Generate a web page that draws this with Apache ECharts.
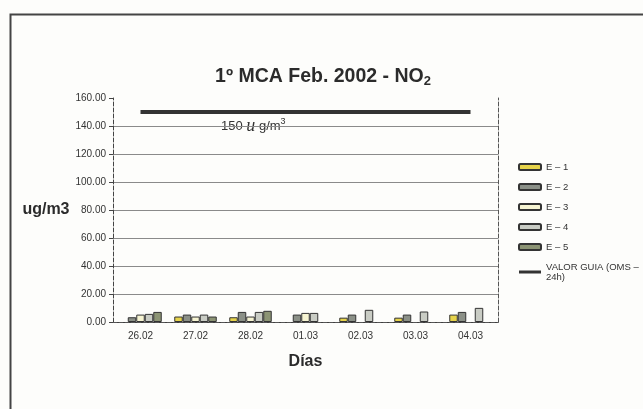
<!DOCTYPE html>
<html lang="es">
  <head>
    <meta charset="UTF-8" />
    <title>1º MCA Feb. 2002 - NO2</title>
    <script src="https://cdn.jsdelivr.net/npm/echarts@6/dist/echarts.min.js"></script>
    <style>
      body { margin: 0; background: #fdfdfb; }
    </style>
  </head>

  <body>
    <div id="main" style="width: 643px; height: 409px"></div>

    <script type="text/javascript">
      // datos (ug/m3)
      const dias = ["26.02", "27.02", "28.02", "01.03", "02.03", "03.03", "04.03"];
      const e1 = [null, 3.9, 3.4, null, 3.1, 3.1, 5.3];
      const e2 = [3.4, 5.3, 7.2, 5.3, 5.3, 5.3, 7.2];
      const e3 = [5.3, 3.9, 3.9, 6.5, null, null, null];
      const e4 = [5.8, 5.3, 7.2, 6.5, 8.7, 7.5, 10.1];
      const e5 = [7.2, 3.9, 8.0, null, null, null, null];
      const valorGuia = [150, 150, 150, 150, 150, 150, 150];
      const yTicks = [0, 20, 40, 60, 80, 100, 120, 140, 160];

      let myChart = echarts.init(document.getElementById("main"));

      const bar = (name, data, color) => ({
        name: name,
        type: "bar",
        data: data,
        barWidth: 8.5,
        barGap: "0%",
        itemStyle: { color: color, borderColor: "#333", borderWidth: 1 },
      });

      let options = {
        textStyle: { fontFamily: "Liberation Sans, Arial, sans-serif" },
        title: {
          text: "1º MCA Feb. 2002 - NO{sub|2}",
          left: 318,
          top: 61,
          textAlign: "center",
          textStyle: {
            fontSize: 19.5,
            fontWeight: "bold",
            color: "#2b2b2b",
            rich: {
              sub: { fontSize: 13, fontWeight: "bold", color: "#2b2b2b", padding: [9, 0, 0, 0] },
            },
          },
        },
        legend: {
          orient: "vertical",
          left: 513,
          top: 157,
          itemWidth: 22,
          itemHeight: 6,
          itemGap: 10,
          textStyle: { fontSize: 9.5, color: "#333" },
          data: [
            "E – 1",
            "E – 2",
            "E – 3",
            "E – 4",
            "E – 5",
            { name: "VALOR GUIA (OMS –\n24h)", icon: "path://M0,0 L22,0 L22,3 L0,3 Z" },
          ],
        },
        grid: { left: 113, right: 145, top: 98, bottom: 87 },
        xAxis: [
          {
            type: "category",
            data: dias,
            name: "Días",
            nameLocation: "middle",
            nameGap: 32,
            nameTextStyle: { fontSize: 16, fontWeight: "bold", color: "#2b2b2b" },
            axisLine: { lineStyle: { color: "#333" } },
            axisTick: { length: 4, lineStyle: { color: "#333" } },
            axisLabel: { fontSize: 10, color: "#333", margin: 9 },
          },
          {
            type: "category",
            data: dias,
            position: "top",
            axisLine: { lineStyle: { color: "#555", type: "dashed" } },
            axisTick: { show: false },
            axisLabel: { show: false },
          },
        ],
        yAxis: [
          {
            type: "value",
            min: yTicks[0],
            max: yTicks[yTicks.length - 1],
            interval: 20,
            name: "ug/m3",
            nameLocation: "middle",
            nameRotate: 0,
            nameGap: 43,
            nameTextStyle: { fontSize: 16, fontWeight: "bold", color: "#2b2b2b", align: "right" },
            axisLine: { show: true, lineStyle: { color: "#444", type: "dashed" } },
            axisTick: { show: true, length: 4, lineStyle: { color: "#444" } },
            axisLabel: { fontSize: 10, color: "#333", margin: 7, formatter: (v) => v.toFixed(2) },
            splitLine: { showMaxLine: false, showMinLine: false, lineStyle: { color: "#8a8a8a" } },
          },
          {
            type: "value",
            min: yTicks[0],
            max: yTicks[yTicks.length - 1],
            interval: 20,
            position: "right",
            axisLine: { show: true, lineStyle: { color: "#555", type: "dashed" } },
            axisTick: { show: false },
            axisLabel: { show: false },
            splitLine: { show: false },
          },
        ],
        series: [
          bar("E – 1", e1, "#e6d34a"),
          bar("E – 2", e2, "#8b9087"),
          bar("E – 3", e3, "#f6f4d2"),
          bar("E – 4", e4, "#c9ccc4"),
          bar("E – 5", e5, "#8c9474"),
          {
            name: "VALOR GUIA (OMS –\n24h)",
            type: "line",
            data: valorGuia,
            symbol: "none",
            lineStyle: { color: "#333", width: 4 },
            itemStyle: { color: "#333" },
          },
        ],
        graphic: [
          {
            type: "rect",
            left: 8,
            top: 12,
            shape: { width: 660, height: 420 },
            style: { fill: null, stroke: "#444", lineWidth: 2 },
          },
          {
            type: "text",
            left: 221,
            top: 117,
            style: {
              text: "150 {u|u} g/m{sup|3}",
              fontSize: 13,
              fill: "#333",
              fontFamily: "Liberation Sans, Arial, sans-serif",
              rich: {
                u: { fontSize: 18, fontStyle: "italic", fontFamily: "Liberation Serif, serif", fill: "#333" },
                sup: { fontSize: 9, fill: "#333", padding: [0, 0, 10, 0] },
              },
            },
          },
        ],
      };

      myChart.setOption(options);
    </script>
  </body>
</html>
